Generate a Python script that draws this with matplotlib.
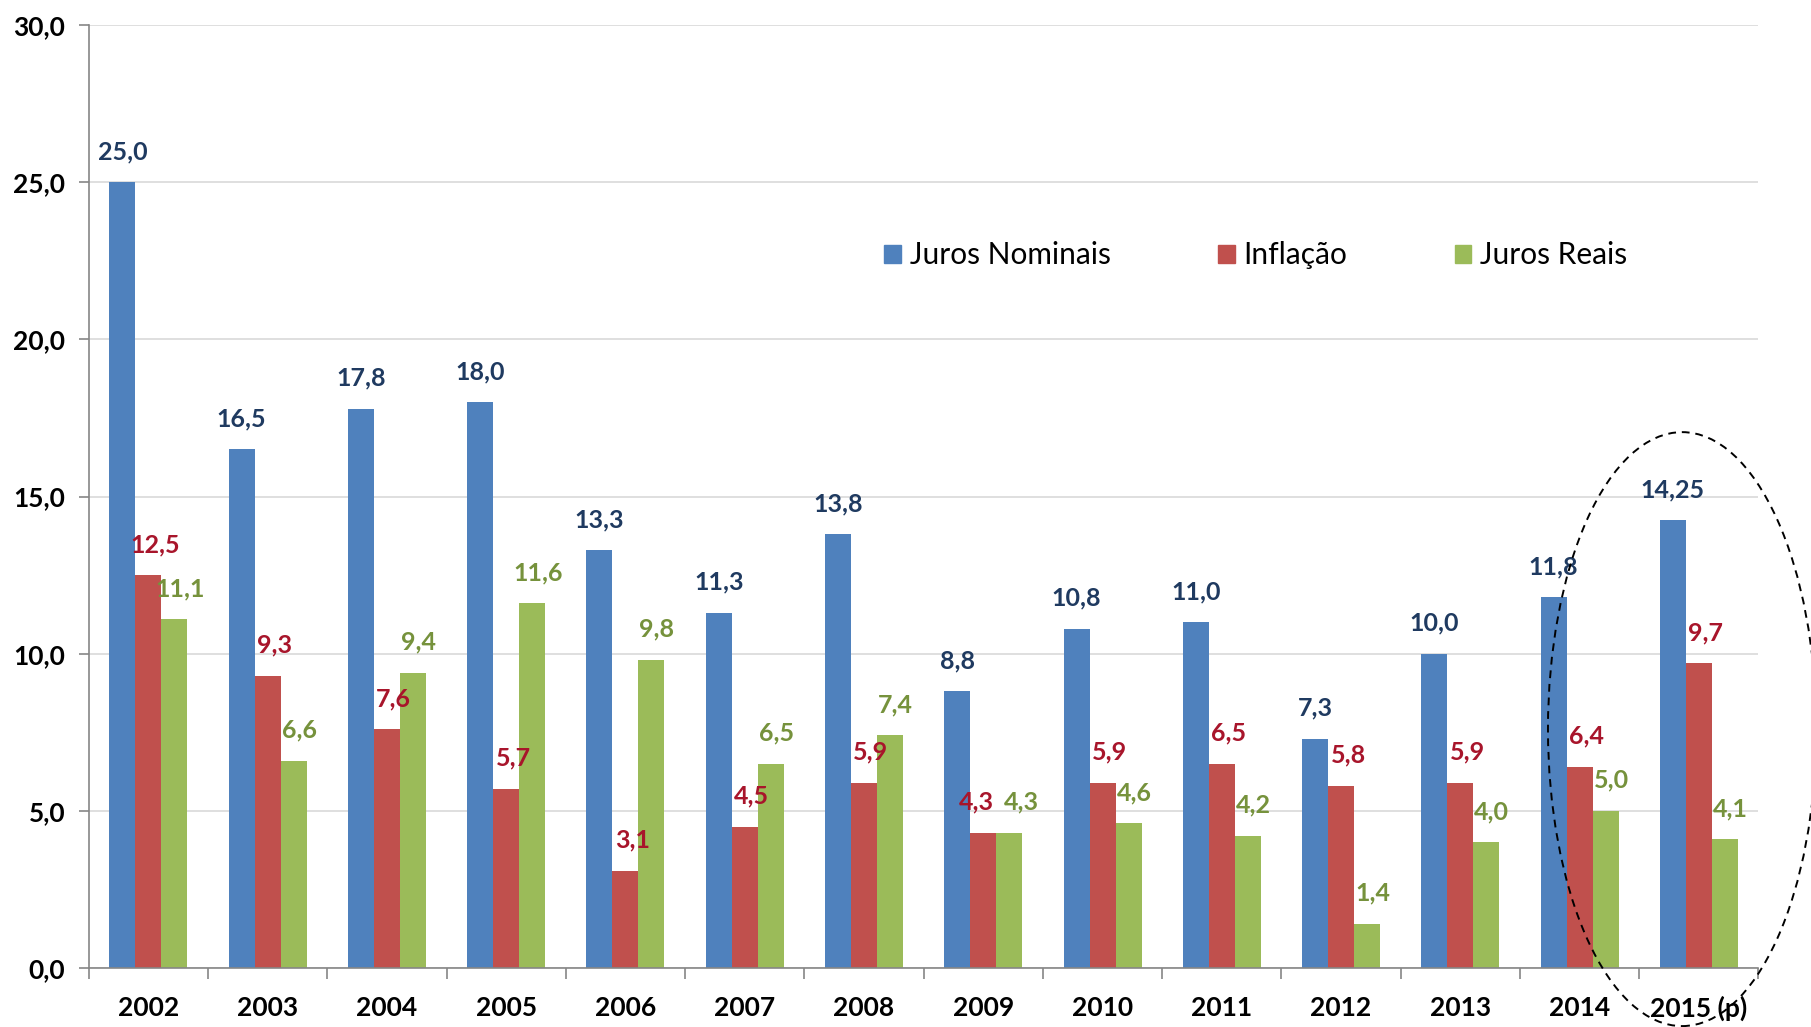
import numpy as np
import matplotlib
matplotlib.use('Agg')
import matplotlib.pyplot as plt
from matplotlib.patches import Ellipse, Patch

plt.rcParams['font.family'] = ['Lato', 'DejaVu Sans']

# anos e séries (% a.a.)
anos = ['2002', '2003', '2004', '2005', '2006', '2007', '2008',
        '2009', '2010', '2011', '2012', '2013', '2014', '2015 (p)']
juros_nominais = [25.0, 16.5, 17.8, 18.0, 13.3, 11.3, 13.8, 8.8, 10.8, 11.0, 7.3, 10.0, 11.8, 14.25]
inflacao = [12.5, 9.3, 7.6, 5.7, 3.1, 4.5, 5.9, 4.3, 5.9, 6.5, 5.8, 5.9, 6.4, 9.7]
juros_reais = [11.1, 6.6, 9.4, 11.6, 9.8, 6.5, 7.4, 4.3, 4.6, 4.2, 1.4, 4.0, 5.0, 4.1]

series = [
    ('Juros Nominais', juros_nominais, '#4F81BD', '#1F3A60', 0),
    ('Inflação', inflacao, '#C0504D', '#A8152B', 5),
    ('Juros Reais', juros_reais, '#9BBB59', '#76923C', 4),
]


def fmt(v):
    # vírgula decimal; mantém duas casas quando houver
    s = f'{v:.2f}' if round(v * 10) != v * 10 else f'{v:.1f}'
    return s.replace('.', ',')


fig = plt.figure(figsize=(18.11, 10.27), dpi=100)
ax = fig.add_axes([0.049, 0.0575, 0.922, 0.918])

x = np.arange(len(anos))
w = 0.218
for k, (nome, vals, cor, cor_txt, dx) in enumerate(series):
    pos = x + (k - 1) * w
    ax.bar(pos, vals, width=w, color=cor, label=nome, zorder=2)
    for i, (xi, v) in enumerate(zip(pos, vals)):
        off = dx
        # rótulos de inflação e juros reais muito próximos: afasta um do outro
        if abs(inflacao[i] - juros_reais[i]) < 1.0:
            if k == 1:
                off = -5
            elif k == 2:
                off = 9
        ax.annotate(fmt(v), (xi, v), xytext=(off, 22), textcoords='offset points',
                    ha='center', va='center', fontsize=18, fontweight='bold',
                    color=cor_txt)

ax.set_xlim(-0.5, len(anos) - 0.5)
ax.set_ylim(0, 30)
ax.set_yticks(np.arange(0, 31, 5))
ax.set_yticklabels([f'{t:.1f}'.replace('.', ',') for t in np.arange(0, 31, 5)],
                   fontsize=19, fontweight='bold')
ax.yaxis.grid(True, color='#D9D9D9', linewidth=1.2, zorder=0)
ax.set_axisbelow(True)
ax.tick_params(axis='y', length=7, width=1.2, color='#868686', pad=10)

ax.set_xticks(x)
ax.set_xticklabels(anos, fontsize=19, fontweight='bold')
ax.set_xticks(np.arange(-0.5, len(anos), 1), minor=True)
ax.tick_params(axis='x', which='major', length=0, pad=20)
ax.tick_params(axis='x', which='minor', length=8, width=1.2, color='#868686')

for s in ['top', 'right']:
    ax.spines[s].set_visible(False)
for s in ['left', 'bottom']:
    ax.spines[s].set_color('#868686')
    ax.spines[s].set_linewidth(1.2)

handles = [Patch(color=c) for _, _, c, _, _ in series]
ax.legend(handles, [n for n, *_ in series], loc='center', bbox_to_anchor=(0.699, 0.756),
          ncol=3, frameon=False, fontsize=21.5, handlelength=0.55, handleheight=0.55,
          handletextpad=0.3, columnspacing=3.6)

# destaque para 2015
ax.add_patch(Ellipse((12.86, 7.6), width=2.25, height=18.9, fill=False,
                     edgecolor='black', linestyle=(0, (4, 3)), linewidth=1.4,
                     clip_on=False, zorder=5))

fig.savefig('out.png', dpi=100)
